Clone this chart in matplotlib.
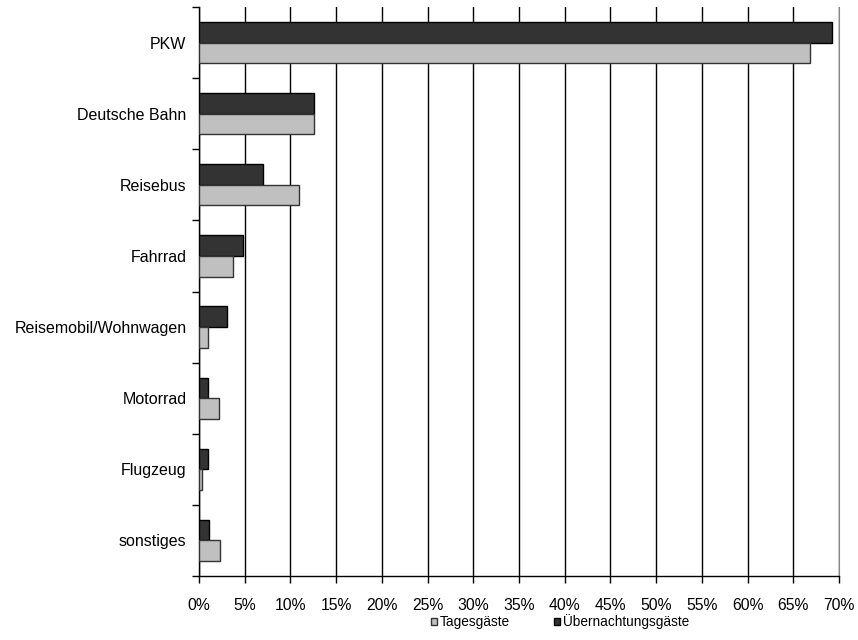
import matplotlib
matplotlib.use('Agg')
import matplotlib.pyplot as plt
from matplotlib.ticker import MultipleLocator, FuncFormatter
from matplotlib.patches import Patch
import numpy as np

plt.rcParams['font.family'] = ['Liberation Sans', 'DejaVu Sans']

categories   = ['PKW', 'Deutsche Bahn', 'Reisebus', 'Fahrrad',
                'Reisemobil/Wohnwagen', 'Motorrad', 'Flugzeug', 'sonstiges']
tagesgaeste  = [66.8, 12.6, 10.9, 3.7, 1.0, 2.2, 0.3, 2.3]
uebernachtung = [69.2, 12.6, 7.0, 4.8, 3.1, 1.0, 1.0, 1.1]

fig = plt.figure(figsize=(8.58, 6.40), dpi=100)
ax = fig.add_axes([199/858, 1 - 576/640, 640/858, 569/640])

y = np.arange(len(categories))
h = 0.29
ax.barh(y - h/2, uebernachtung, h, color='#333333', edgecolor='black', linewidth=1.0, zorder=3)
ax.barh(y + h/2, tagesgaeste, h, color='#C0C0C0', edgecolor='#333333', linewidth=1.0, zorder=3)

ax.set_xlim(0, 70)
ax.set_ylim(len(categories) - 0.5, -0.5)
ax.xaxis.set_major_locator(MultipleLocator(5))
ax.xaxis.set_major_formatter(FuncFormatter(lambda v, p: f'{v:.0f}%'))
ax.grid(axis='x', color='black', linewidth=1.0, zorder=0)

ax.set_yticks(y)
ax.set_yticklabels(categories)
ax.set_yticks(np.arange(len(categories) + 1) - 0.5, minor=True)
ax.tick_params(axis='y', which='major', length=0, pad=9, labelsize=11.5)
ax.tick_params(axis='y', which='minor', length=5, width=1, direction='out')
ax.tick_params(axis='x', length=5, width=1, direction='out', labelsize=11.3, pad=11)

ax.spines['top'].set_visible(False)
ax.spines['right'].set_color('#888888')
for s in ('left', 'bottom'):
    ax.spines[s].set_linewidth(1.0)

handles = [Patch(facecolor='#C0C0C0', edgecolor='#333333', label='Tagesgäste'),
           Patch(facecolor='#333333', edgecolor='black', label='Übernachtungsgäste')]
fig.legend(handles=handles, loc='center', bbox_to_anchor=(560/858, 1 - 622/640),
           ncol=2, frameon=False, fontsize=9.8, handlelength=0.45, handleheight=0.45,
           handletextpad=0.25, columnspacing=3.2)

fig.savefig('out.png', dpi=100)
